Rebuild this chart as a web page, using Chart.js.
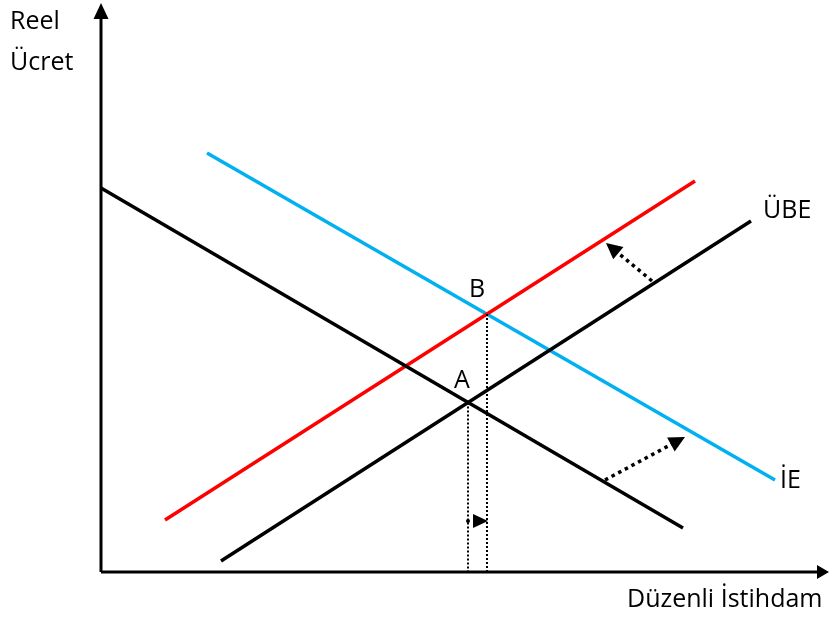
<!DOCTYPE html>
<html>
<head>
<meta charset="utf-8">
<script src="https://cdn.jsdelivr.net/npm/chart.js@4/dist/chart.umd.min.js"></script>
<style>
  html, body { margin: 0; padding: 0; background: #fff; }
  canvas { display: block; }
</style>
</head>
<body>
<canvas id="chart" width="829" height="619"></canvas>
<script>
const demandOld = [{ x: 0, y: 384 }, { x: 582, y: 44 }]
const demandNew = [{ x: 106, y: 419 }, { x: 674, y: 92 }]
const supplyNew = [{ x: 64, y: 52 }, { x: 594, y: 391 }]
const supplyOld = [{ x: 120, y: 11 }, { x: 650, y: 351 }]
const pointA = { x: 367, y: 169.5 }
const pointB = { x: 386, y: 258 }
const shiftArrows = [
  { from: { x: 551, y: 291 }, to: { x: 505, y: 329 } },
  { from: { x: 504, y: 92 }, to: { x: 584, y: 135 } }
]
const axisMax = { x: 728, y: 569 }

const FONT = '25px "Open Sans"'

// Helpers
function arrowHead(ctx, tipX, tipY, fromX, fromY, len, half) {
  const ang = Math.atan2(tipY - fromY, tipX - fromX)
  ctx.save()
  ctx.translate(tipX, tipY)
  ctx.rotate(ang)
  ctx.beginPath()
  ctx.moveTo(0, 0)
  ctx.lineTo(-len, -half)
  ctx.lineTo(-len, half)
  ctx.closePath()
  ctx.fill()
  ctx.restore()
}

const extras = {
  id: 'extras',
  afterDatasetsDraw(chart) {
    const ctx = chart.ctx
    const xs = chart.scales.x
    const ys = chart.scales.y
    const px = v => xs.getPixelForValue(v)
    const py = v => ys.getPixelForValue(v)
    ctx.save()
    ctx.fillStyle = '#000'
    ctx.strokeStyle = '#000'

    // axis arrowheads
    arrowHead(ctx, px(0), py(axisMax.y), px(0), py(0), 16, 7.5)
    arrowHead(ctx, px(axisMax.x), py(0), px(0), py(0), 12, 7)

    // dotted verticals from A and B
    ctx.lineWidth = 2
    ctx.setLineDash([2, 2])
    ;[pointA, pointB].forEach(p => {
      ctx.beginPath()
      ctx.moveTo(px(p.x), py(p.y))
      ctx.lineTo(px(p.x), py(0))
      ctx.stroke()
    })

    // small arrow between them
    const yArr = 51
    ctx.setLineDash([])
    ctx.beginPath()
    ctx.arc(px(pointA.x), py(yArr), 2, 0, Math.PI * 2)
    ctx.fill()
    arrowHead(ctx, px(pointB.x) + 1, py(yArr), px(pointA.x), py(yArr), 15, 7)

    // dotted shift arrows
    shiftArrows.forEach(a => {
      const x1 = px(a.from.x), y1 = py(a.from.y)
      const x2 = px(a.to.x), y2 = py(a.to.y)
      const ang = Math.atan2(y2 - y1, x2 - x1)
      const ex = x2 - Math.cos(ang) * 12, ey = y2 - Math.sin(ang) * 12
      ctx.lineWidth = 3.5
      ctx.setLineDash([3.5, 4])
      ctx.beginPath()
      ctx.moveTo(x1, y1)
      ctx.lineTo(ex, ey)
      ctx.stroke()
      ctx.setLineDash([])
      arrowHead(ctx, x2, y2, x1, y1, 16, 8)
    })

    // labels
    ctx.font = FONT
    ctx.textAlign = 'left'
    ctx.textBaseline = 'alphabetic'
    ctx.fillStyle = '#000'
    ctx.fillText('Reel', 10, 29)
    ctx.fillText('Ücret', 10, 70)
    ctx.fillText('B', 469, 297)
    ctx.fillText('A', 454, 388)
    ctx.fillText('ÜBE', 763, 218)
    ctx.fillText('İE', 780, 488)
    ctx.fillText('Düzenli İstihdam', 627, 607)
    ctx.restore()
  }
}

function lineSet(data, color, width) {
  return {
    data,
    showLine: true,
    borderColor: color,
    borderWidth: width,
    pointRadius: 0,
    pointHoverRadius: 0,
    fill: false,
    clip: false
  }
}

const ctx = document.getElementById('chart').getContext('2d')
new Chart(ctx, {
  type: 'scatter',
  data: {
    datasets: [
      lineSet([{ x: 0, y: 0 }, { x: 0, y: axisMax.y - 12 }], '#000', 3),
      lineSet([{ x: 0, y: 0 }, { x: axisMax.x - 8, y: 0 }], '#000', 3),
      lineSet(demandOld, '#000', 3.5),
      lineSet(supplyOld, '#000', 3.5),
      lineSet(supplyNew, '#FF0000', 3.5),
      lineSet(demandNew, '#00B0F0', 3.5)
    ]
  },
  options: {
    responsive: false,
    animation: false,
    layout: { padding: { left: 101, top: 3, right: 0, bottom: 47 } },
    plugins: {
      legend: { display: false },
      tooltip: { enabled: false }
    },
    scales: {
      x: { type: 'linear', min: 0, max: axisMax.x, display: false },
      y: { type: 'linear', min: 0, max: axisMax.y, display: false }
    }
  },
  plugins: [extras]
})
</script>
</body>
</html>
